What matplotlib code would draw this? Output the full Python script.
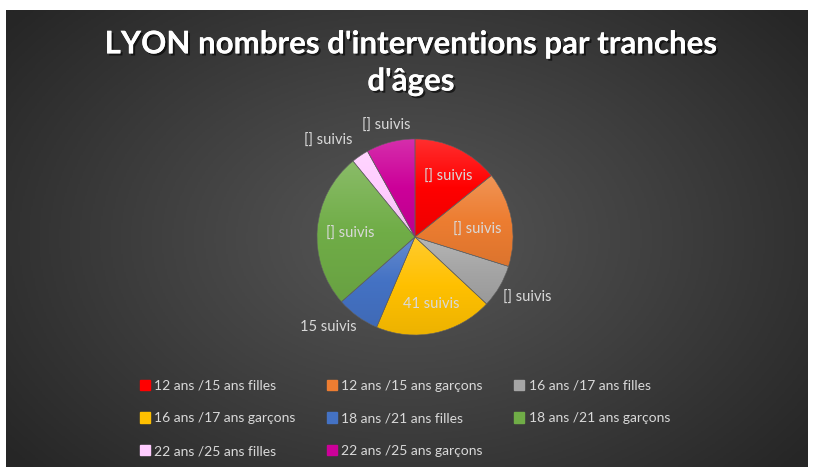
import numpy as np
import matplotlib.pyplot as plt
import matplotlib.patheffects as pe
from matplotlib.colors import LinearSegmentedColormap, to_rgb

# Données
categories = ["12 ans /15 ans filles", "12 ans /15 ans garçons", "16 ans /17 ans filles",
              "16 ans /17 ans garçons", "18 ans /21 ans filles", "18 ans /21 ans garçons",
              "22 ans /25 ans filles", "22 ans /25 ans garçons"]
valeurs = [30, 33, 15, 41, 15, 54, 6, 17]
etiquettes = ["[] suivis", "[] suivis", "[] suivis", "41 suivis",
              "15 suivis", "[] suivis", "[] suivis", "[] suivis"]
titre = "LYON nombres d'interventions par tranches\nd'âges"

couleurs = ["#FF0000", "#ED7D31", "#A5A5A5", "#FFC000",
            "#4472C4", "#70AD47", "#FFCCFF", "#CC0099"]
# position des étiquettes : rayon relatif, décalage angulaire (deg)
pos_r = [0.70, 0.64, 1.30, 0.70, 1.28, 0.66, 1.32, 1.17]
pos_da = [-3, -4, 2, 2, -8, 2, 8, 0]

W, H = 816, 467
fig = plt.figure(figsize=(W / 100, H / 100), dpi=100)
fig.patch.set_facecolor("white")

# fond dégradé radial
bg = fig.add_axes([6 / W, 0, (808 - 6) / W, (H - 10) / H])
bg.set_axis_off()
yy, xx = np.mgrid[-1:1:300j, -1:1:500j]
d = np.sqrt((xx * 0.9) ** 2 + (yy * 0.75) ** 2)
d = np.clip(d / 1.15, 0, 1)
cmap_bg = LinearSegmentedColormap.from_list("bg", ["#575757", "#3f3f3f", "#262626"])
bg.imshow(d, cmap=cmap_bg, aspect="auto", extent=[0, 1, 0, 1], vmin=0, vmax=1)
bg.set_xlim(0, 1)
bg.set_ylim(0, 1)

fig.text(0.5 + 6 / W / 2, (H - 63) / H, titre, ha="center", va="center",
         fontsize=22.5, fontweight="bold", color="white", family="Lato",
         linespacing=1.4,
         path_effects=[pe.withSimplePatchShadow(offset=(1.5, -1.5), shadow_rgbFace="black", alpha=0.6),
                       pe.Normal()])

# camembert
R = 98
cx, cy = 415, 237
ax = fig.add_axes([(cx - R) / W, (H - cy - R) / H, 2 * R / W, 2 * R / H])
wedges, _ = ax.pie(valeurs, colors=couleurs, startangle=90, counterclock=False,
                   radius=1, wedgeprops=dict(linewidth=0.4, edgecolor="#606060"))


def eclaircir(c, f):
    r = np.array(to_rgb(c))
    return tuple(r + (1 - r) * f)


def assombrir(c, f):
    return tuple(np.array(to_rgb(c)) * (1 - f))


grad = np.linspace(0, 1, 100).reshape(-1, 1)
for w, c in zip(wedges, couleurs):
    bb = w.get_path().get_extents(w.get_transform() - ax.transData)
    cm = LinearSegmentedColormap.from_list("g", [eclaircir(c, 0.18), c, assombrir(c, 0.07)])
    im = ax.imshow(grad, cmap=cm, extent=[bb.x0, bb.x1, bb.y0, bb.y1],
                   origin="upper", aspect="auto", zorder=w.get_zorder() + 0.1)
    im.set_clip_path(w)
    w.set_zorder(w.get_zorder() + 0.2)
    w.set_facecolor("none")
ax.set_xlim(-1, 1)
ax.set_ylim(-1, 1)
ax.set_axis_off()

for w, lab, r, da in zip(wedges, etiquettes, pos_r, pos_da):
    ang = np.deg2rad((w.theta1 + w.theta2) / 2 + da)
    ax.text(r * np.cos(ang), r * np.sin(ang), lab, ha="center", va="center",
            fontsize=10.5, color="#D9D9D9", family="Lato", zorder=10)

# légende (remplie ligne par ligne)
ordre = [0, 3, 6, 1, 4, 7, 2, 5]
handles = [plt.Rectangle((0, 0), 1, 1, color=couleurs[i]) for i in ordre]
noms = [categories[i] for i in ordre]
leg = fig.legend(handles, noms, ncol=3, loc="upper left",
                 bbox_to_anchor=(127 / W, (H - 367) / H), frameon=False,
                 prop={"family": "Lato", "size": 10}, labelcolor="#D9D9D9",
                 handlelength=0.75, handleheight=0.75, handletextpad=0.3,
                 columnspacing=2.25, labelspacing=1.5)

fig.savefig("out.png", dpi=100)
